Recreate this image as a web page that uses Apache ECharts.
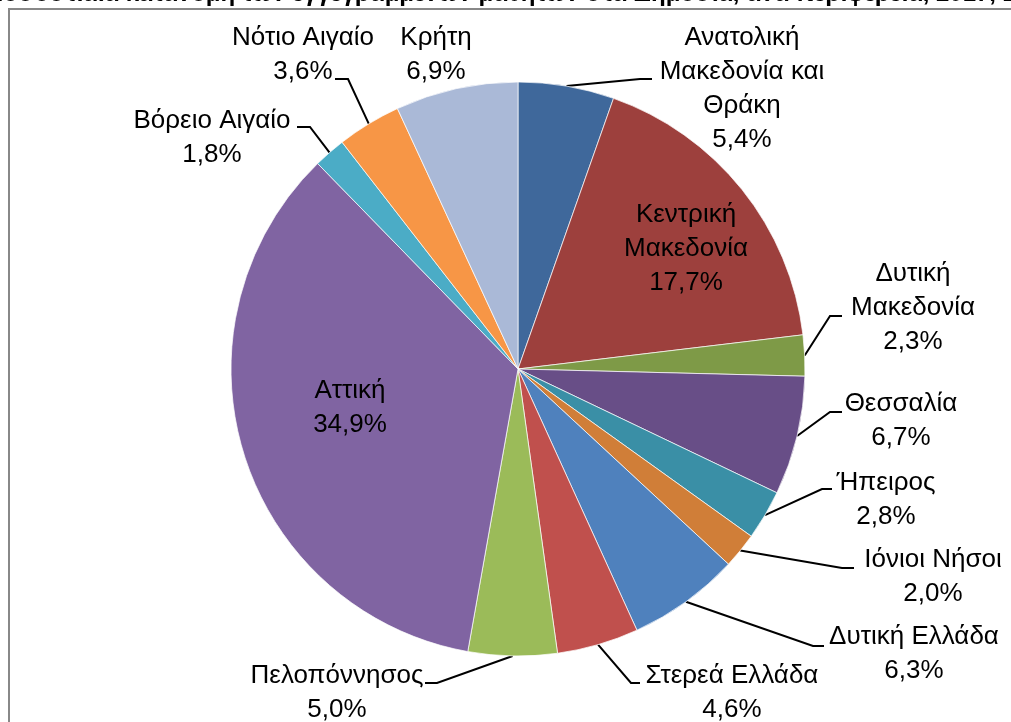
<!DOCTYPE html>
<html>
<head>
<meta charset="utf-8">
<script src="https://cdn.jsdelivr.net/npm/echarts@6/dist/echarts.min.js"></script>
<style>
html,body{margin:0;padding:0;background:#fff;}
#chart{width:1011px;height:722px;}
</style>
</head>
<body>
<div id="chart"></div>
<script>
// ---- data ----
var titleText = 'Ποσοστιαία κατανομή των εγγεγραμμένων μαθητών στα Δημόσια, ανά περιφέρεια, 2017, Σύνολο';
var categories = [
  'Ανατολική\nΜακεδονία και\nΘράκη',
  'Κεντρική\nΜακεδονία',
  'Δυτική\nΜακεδονία',
  'Θεσσαλία',
  'Ήπειρος',
  'Ιόνιοι Νήσοι',
  'Δυτική Ελλάδα',
  'Στερεά Ελλάδα',
  'Πελοπόννησος',
  'Αττική',
  'Βόρειο Αιγαίο',
  'Νότιο Αιγαίο',
  'Κρήτη'
];
var values = [5.4, 17.7, 2.3, 6.7, 2.8, 2.0, 6.3, 4.6, 5.0, 34.9, 1.8, 3.6, 6.9];

// ---- styles ----
var colors = ['#3F689B','#9D403D','#7E9A47','#684E87','#3A8FA6','#D07E38',
              '#4F81BD','#C0504D','#9BBB59','#8064A2','#4BACC6','#F79646','#AAB9D7'];
// label layout: [centerX, centerY, lineEndX, lineEndY, elbowOffset] (null line => no leader)
var labelPos = [
  [742, 89, 652, 79, -12],
  [686, 249, null],
  [913, 308, 842, 316, -12],
  [901, 421, 842, 412, -12],
  [886, 500, 832, 489, -10],
  [933, 577, 854, 568, -12],
  [914, 654, 824, 646, -11],
  [732, 693, 640, 683, -9],
  [337, 693, 425, 683, 12],
  [350, 408, null],
  [212, 138, 297, 127, 13],
  [303, 55, 335, 79, 13],
  [436, 55, null]
];

var chart = echarts.init(document.getElementById('chart'), null, {renderer:'canvas'});
var FONT = 'Liberation Sans';

var seriesData = categories.map(function(c, i){
  var d = {name: c, value: values[i], itemStyle: {color: colors[i]}};
  if (labelPos[i][2] == null) d.labelLine = {show: false};
  return d;
});

chart.setOption({
  backgroundColor: '#fff',
  animation: false,
  graphic: [
    {type:'rect', shape:{x:9, y:9, width:1200, height:900}, style:{fill:'none', stroke:'#888888', lineWidth:2}, z:0, silent:true},
    {type:'text', x:-14, y:-18, style:{text:titleText, font:'bold 24px "' + FONT + '"', fill:'#000'}, z:10}
  ],
  series: [{
    type: 'pie',
    center: [518, 369],
    radius: 287,
    startAngle: 90,
    clockwise: true,
    avoidLabelOverlap: false,
    data: seriesData,
    itemStyle: {borderColor: '#ffffff', borderWidth: 0.7},
    label: {
      show: true,
      position: 'outside',
      formatter: function(p){ return p.name + '\n' + p.value.toFixed(1).replace('.', ',') + '%'; },
      fontFamily: FONT,
      fontSize: 26,
      lineHeight: 34,
      color: '#000',
      align: 'center'
    },
    labelLine: {show: true, lineStyle: {color: '#000', width: 2}, length: 10, length2: 10},
    labelLayout: function(params){
      var L = labelPos[params.dataIndex];
      var res = {x: L[0], y: L[1], align: 'center', verticalAlign: 'middle'};
      if (L[2] != null && params.labelLinePoints) {
        var p0 = params.labelLinePoints[0];
        res.labelLinePoints = [[p0[0], p0[1]], [L[2] + L[4], L[3]], [L[2], L[3]]];
      }
      return res;
    }
  }]
});
</script>
</body>
</html>
